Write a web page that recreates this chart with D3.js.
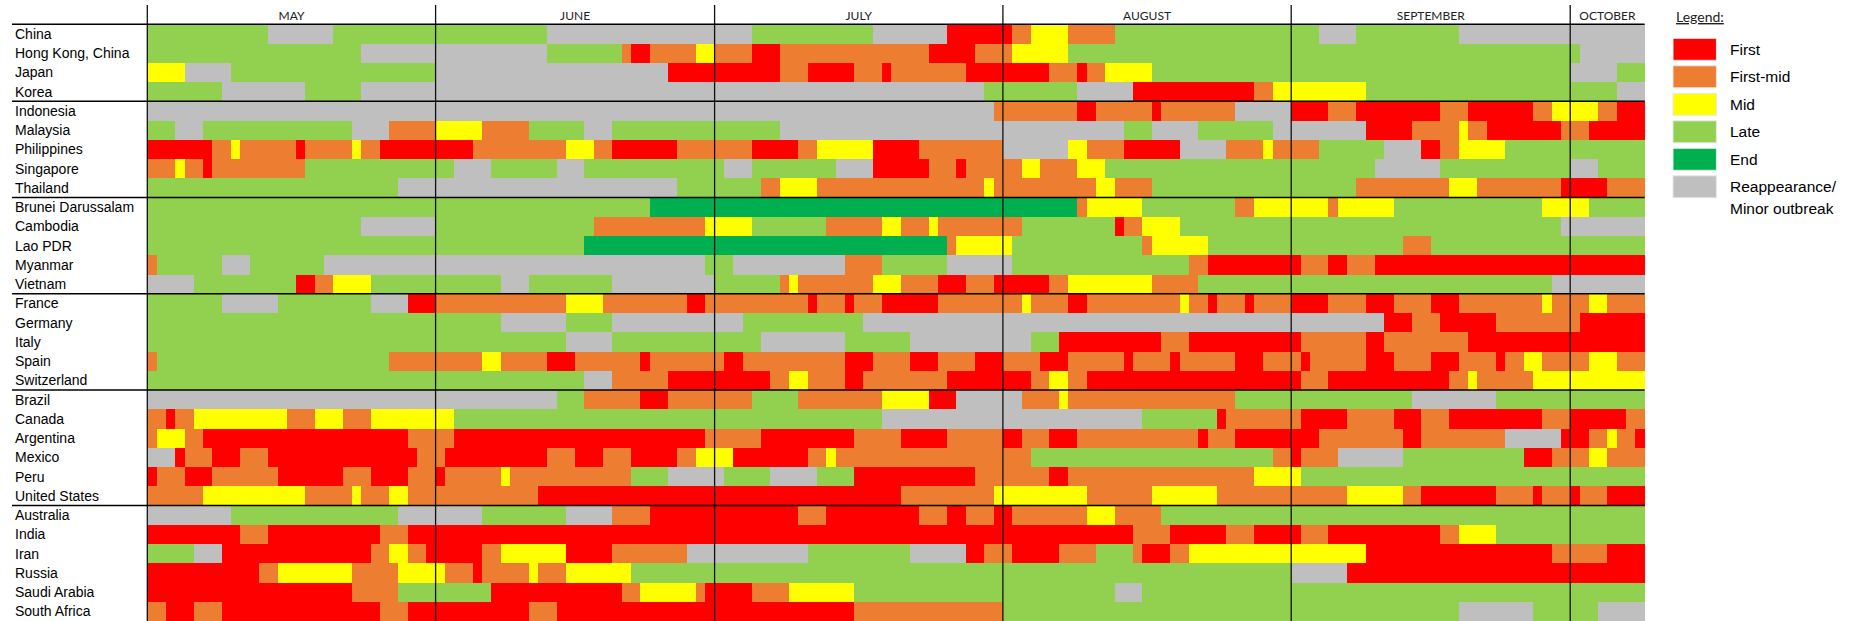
<!DOCTYPE html>
<html>
<head>
<meta charset="utf-8">
<script src="https://cdn.jsdelivr.net/npm/d3@7"></script>
<style>
  body { margin: 0; background: #fff; }
</style>
</head>
<body>
<svg id="chart" width="1854" height="621"></svg>
<script>
var countries = ["China","Hong Kong, China","Japan","Korea",
  "Indonesia","Malaysia","Philippines","Singapore","Thailand",
  "Brunei Darussalam","Cambodia","Lao PDR","Myanmar","Vietnam",
  "France","Germany","Italy","Spain","Switzerland",
  "Brazil","Canada","Argentina","Mexico","Peru","United States",
  "Australia","India","Iran","Russia","Saudi Arabia","South Africa"];

// first row of each new region block (a line is drawn above it)
var groupStarts = ["Indonesia","Brunei Darussalam","France","Brazil","Australia"];

var months = ["MAY","JUNE","JULY","AUGUST","SEPTEMBER","OCTOBER"];
var monthDays = [31, 30, 31, 31, 30, 8];

var phaseCodes = ["F","M","Y","L","E","R"];
var phaseNames = ["First","First-mid","Mid","Late","End","Reappearance/|Minor outbreak"];
var phaseColors = ["#ff0000","#ed7d31","#ffff00","#92d050","#00b050","#bfbfbf"];

// phase code + first day (0 = 1 May) of each run, per country
var runs = [
  "L0 R13 L20 R43 L65 R78 F86 M93 Y95 M99 L104 R126 L130 R141",
  "L0 R23 L43 M51 F52 M54 Y59 M61 F65 M68 F84 M89 Y93 L99 R154",
  "Y0 R4 L9 R31 F56 M68 F71 M76 F79 M80 F88 M97 F100 M101 Y103 L108 R153 L158",
  "L0 R8 L17 R23 L90 R100 F106 M119 Y121 L131 R158",
  "R0 M91 F100 M102 F108 M109 R117 F123 M127 F130 M139 F142 M149 Y151 M156 F158",
  "L0 R3 L6 R22 M26 Y31 M36 L41 R47 L50 R68 L105 R108 L113 R121 F131 M136 Y141 M142 F144 M152 F155",
  "F0 M7 Y9 M10 F16 M17 Y22 M23 F25 M35 Y45 M48 F50 M57 F65 M70 Y72 F78 M83 R92 Y99 M101 F105 R111 M116 Y120 M121 L126 R133 F137 M139 Y141 L146",
  "M0 Y3 M4 F6 M7 L17 R33 L37 R44 L47 R62 L65 R74 F78 M84 F87 M88 Y94 M96 Y100 L103 R132 L139 R153 L156",
  "L0 R27 L57 M66 Y68 M72 Y90 M91 Y102 M104 L108 M130 Y140 M143 F152 M157",
  "L0 E54 M100 Y101 L107 M117 Y119 M127 Y128 L134 Y150 L155",
  "L0 R23 L31 M48 Y60 L65 M73 Y79 M81 Y84 M85 L94 F104 M105 Y107 L111 R152",
  "L0 E47 M86 Y87 L93 M107 Y108 L114 M135 L138",
  "M0 L1 R8 L11 R19 L60 R63 M75 L79 R86 L93 M112 F114 M124 F127 M129 F132",
  "R0 L5 F16 M18 Y20 L24 R38 L41 R50 L61 M68 Y69 M70 Y78 M81 F85 M88 F91 M97 Y99 M108 L113 R151",
  "L0 R8 L14 R24 F28 M31 Y45 M49 F58 M60 F71 M72 F75 M76 F79 M85 Y94 M95 F99 M101 Y111 M112 F114 M115 F118 M119 F123 M127 F131 M134 F138 M141 Y150 M151 Y155 M157",
  "L0 R38 L45 R50 L64 R77 F133 M136 F139 M145 F154",
  "L0 R45 L50 R66 L75 R82 L95 F98 M109 F112 M124 F131 M133 F142",
  "M0 L1 M26 Y36 M38 F43 M46 F53 M54 F62 M64 F75 M78 F82 M85 F89 M92 F96 M99 F105 M106 F110 M111 F117 M120 F124 M125 F131 M134 F138 M141 F145 M146 Y148 M150 Y155 M158",
  "L0 R47 M50 F56 M67 Y69 M71 F75 M77 F86 M95 Y97 M99 F101 M124 F127 M140 Y142 M143 Y149",
  "R0 L44 M47 F53 M56 L65 M70 Y79 F84 R87 M94 Y98 M99 L117 R136 L145",
  "M0 F2 M3 Y5 M15 Y18 M21 Y24 L33 R79 L107 F115 M116 F124 M129 F134 M137 F140 M150 F153 M159",
  "M0 Y1 M4 F6 M28 F33 M60 F66 M76 F81 M86 F92 M94 F97 M100 F113 M114 F117 M126 F135 M137 R146 F152 M155 Y157 M158 F160",
  "R0 F3 M4 F7 M10 F13 M29 F32 M43 F46 M49 F52 M57 Y59 F63 M71 Y73 M74 L95 M121 F123 M124 R128 L135 F148 M151 Y155 M157",
  "F0 M1 F4 M7 F14 M21 F24 M28 F31 M32 Y38 M39 L52 R56 L62 R67 L72 F76 M89 F97 M99 Y119 L124",
  "M0 Y6 M17 Y22 M23 Y26 M28 F42 M81 Y91 M101 Y108 M115 Y129 M135 F137 M145 F149 M150 F153 M154 F157",
  "R0 L9 R27 L36 R45 M50 F54 M70 F73 M83 F86 M88 F91 M93 Y101 M104 L109",
  "F0 M10 F13 M25 F28 M106 F110 M116 F119 M124 F127 M139 Y141 L145",
  "L0 R5 F8 M24 Y26 M28 F30 M36 Y38 F45 M50 R58 L71 R82 F88 M90 F93 M98 L102 M106 F107 M110 Y112 F131 M151 F157",
  "F0 M12 Y14 M22 Y27 M32 F35 M36 Y41 M42 Y45 L52 R123 F129",
  "F0 M22 L27 F37 M51 Y53 M59 F60 M65 Y69 L76 R104 L107",
  "M0 F2 M5 F8 M25 F28 M41 F44 M76 L92 R141 L149 R156"
];

var svg = d3.select("#chart");
var totalDays = d3.sum(monthDays);

var x = d3.scaleLinear().domain([0, totalDays]).range([147.3, 1644.6]);
var y = d3.scaleBand().domain(countries).range([24.3, 24.3 + 19.25 * countries.length]);
var color = d3.scaleOrdinal().domain(phaseCodes).range(phaseColors);

// turn run strings into cells
var cells = [];
runs.forEach(function(str, i) {
  var toks = str.split(" ");
  for (var j = 0; j < toks.length; j++) {
    var start = +toks[j].slice(1);
    var end = j < toks.length - 1 ? +toks[j + 1].slice(1) : totalDays;
    cells.push({country: countries[i], phase: toks[j][0], start: start, end: end});
  }
});

svg.append("g")
  .attr("shape-rendering", "crispEdges")
  .selectAll("rect")
  .data(cells)
  .enter().append("rect")
  .attr("x", function(d) { return x(d.start); })
  .attr("width", function(d) { return x(d.end) - x(d.start); })
  .attr("y", function(d) { return y(d.country); })
  .attr("height", y.bandwidth())
  .attr("fill", function(d) { return color(d.phase); });

// country labels
svg.append("g").selectAll("text")
  .data(countries)
  .enter().append("text")
  .attr("x", 15)
  .attr("y", function(d) { return y(d) + y.bandwidth() / 2; })
  .attr("dy", "0.35em")
  .style("font-family", "'Liberation Sans', Arial, sans-serif")
  .style("font-size", "14px")
  .attr("fill", "#000")
  .text(function(d) { return d; });

// month boundaries and labels
var cum = [0];
monthDays.forEach(function(n, i) { cum.push(cum[i] + n); });

svg.append("g").selectAll("line")
  .data(cum.slice(0, months.length))
  .enter().append("line")
  .attr("x1", function(d) { return x(d); })
  .attr("x2", function(d) { return x(d); })
  .attr("y1", 5)
  .attr("y2", 621)
  .attr("stroke", "#111")
  .attr("stroke-width", 1.3);

svg.append("g").selectAll("text")
  .data(months)
  .enter().append("text")
  .attr("x", function(d, i) { return (x(cum[i]) + x(cum[i + 1])) / 2; })
  .attr("y", 20)
  .attr("text-anchor", "middle")
  .style("font-family", "Lato, 'Open Sans', sans-serif")
  .style("font-size", "12px")
  .attr("fill", "#222")
  .text(function(d) { return d; });

// header line and region separators
var hLines = [y.range()[0]].concat(groupStarts.map(function(c) { return y(c); }));
svg.append("g").selectAll("line")
  .data(hLines)
  .enter().append("line")
  .attr("x1", 12)
  .attr("x2", x(totalDays))
  .attr("y1", function(d) { return d; })
  .attr("y2", function(d) { return d; })
  .attr("stroke", "#000")
  .attr("stroke-width", 1.5);

// legend
var legend = svg.append("g").attr("transform", "translate(1673,0)");
legend.append("text")
  .attr("x", 3)
  .attr("y", 22)
  .style("font-family", "Lato, 'Open Sans', sans-serif")
  .style("font-size", "14px")
  .style("text-decoration", "underline")
  .attr("fill", "#222")
  .text("Legend:");

var item = legend.selectAll(".item")
  .data(phaseNames)
  .enter().append("g")
  .attr("class", "item")
  .attr("transform", function(d, i) { return "translate(0," + (38.3 + 27.5 * i) + ")"; });

item.append("rect")
  .attr("width", 43.4)
  .attr("height", 22)
  .attr("fill", function(d, i) { return phaseColors[i]; })
  .attr("stroke", "#e8e8e8")
  .attr("stroke-width", 1);

item.append("text")
  .style("font-family", "'Liberation Sans', Arial, sans-serif")
  .style("font-size", "15.5px")
  .attr("fill", "#000")
  .selectAll("tspan")
  .data(function(d) { return d.split("|"); })
  .enter().append("tspan")
  .attr("x", 57)
  .attr("y", function(d, i) { return 11 + i * 21.5; })
  .attr("dy", "0.35em")
  .text(function(d) { return d; });
</script>
</body>
</html>
